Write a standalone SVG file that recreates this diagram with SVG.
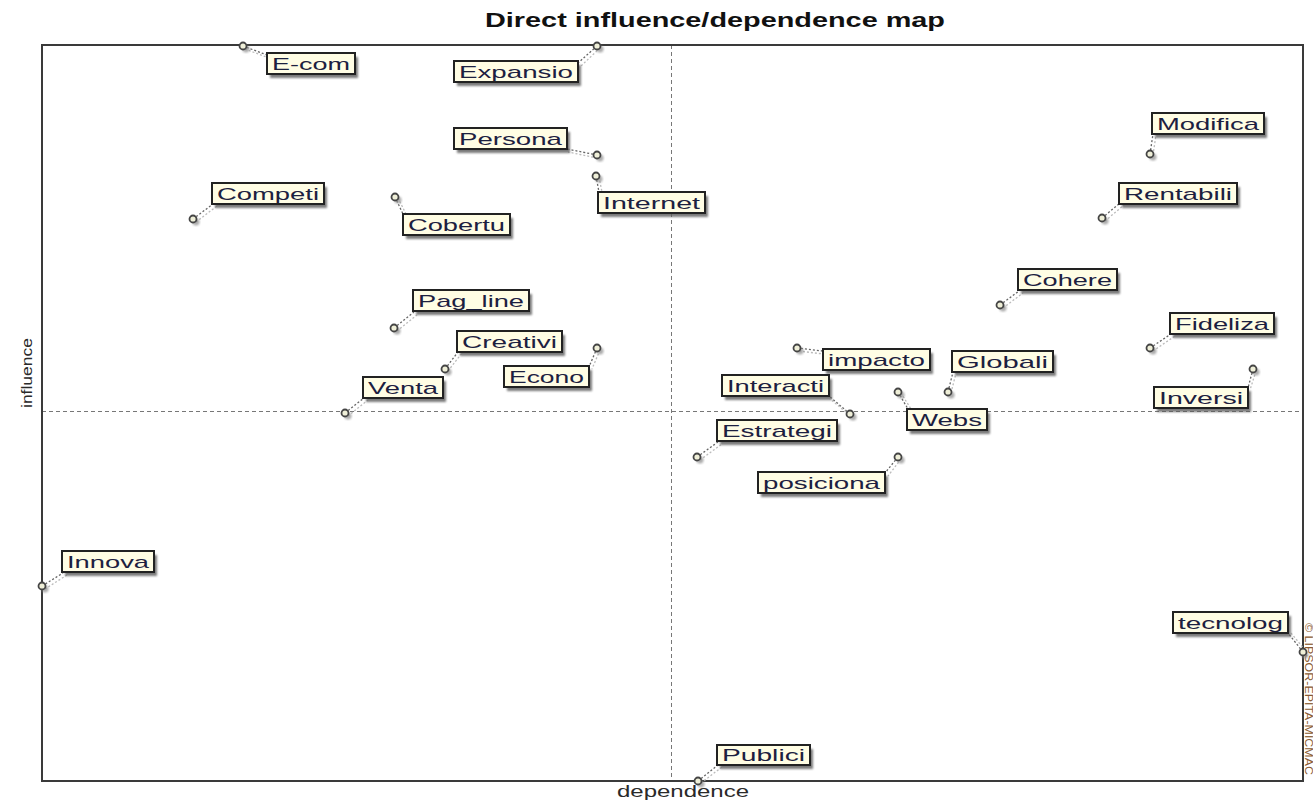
<svg xmlns="http://www.w3.org/2000/svg" width="1313" height="803" viewBox="0 0 1313 803">
<style>
  .lbl { font-family: "Liberation Sans", Arial, sans-serif; font-size: 17px; fill: #1c2040; }
  .box { fill: #fffde4; stroke: #222; stroke-width: 2; }
  .shd { fill: #5a5a5a; opacity: 0.8; }
  .pt { fill: #efefd8; stroke: #444; stroke-width: 1.8; }
  .pts { fill: #888; opacity: 0.7; }
  .ld { stroke: #666; stroke-width: 1.3; stroke-dasharray: 2 2; fill: none; }
  .ld2 { stroke: #bbb; stroke-width: 1.3; stroke-dasharray: 2 2; fill: none; }
  .axis { font-family: "Liberation Sans", Arial, sans-serif; fill: #2a2a2a; }
  .grid { stroke: #777; stroke-width: 1; stroke-dasharray: 4 3; fill: none; }
</style>
<defs>
  <filter id="blur" x="-20%" y="-20%" width="140%" height="140%">
    <feGaussianBlur stdDeviation="1"/>
  </filter>
</defs>
<rect x="0" y="0" width="1313" height="803" fill="#ffffff"/>
<text x="485" y="27" font-family="Liberation Sans, Arial, sans-serif" font-size="21" font-weight="bold" fill="#111" textLength="460" lengthAdjust="spacingAndGlyphs">Direct influence/dependence map</text>

<g id="frame">
  <line class="grid" x1="671.5" y1="45" x2="671.5" y2="781"/>
  <line class="grid" x1="42" y1="411.5" x2="1303" y2="411.5"/>
  <rect x="42" y="45" width="1261" height="736" fill="none" stroke="#3a3a3a" stroke-width="2"/>
</g>

<text class="axis" transform="translate(32,373) rotate(-90)" text-anchor="middle" font-size="15" textLength="70" lengthAdjust="spacingAndGlyphs">influence</text>
<text class="axis" x="617" y="797" font-size="16" textLength="132" lengthAdjust="spacingAndGlyphs">dependence</text>
<text transform="translate(1304.5,623) rotate(90)" font-family="Liberation Sans, Arial, sans-serif" font-size="10" fill="#8a5a30" textLength="152" lengthAdjust="spacingAndGlyphs">© LIPSOR-EPITA-MICMAC</text>

<g id="connectors">
  <line class="ld" x1="243" y1="46" x2="267" y2="55"/><line class="ld2" x1="245" y1="49" x2="269" y2="58"/>
  <line class="ld" x1="597" y1="46" x2="578" y2="63"/><line class="ld2" x1="600" y1="48" x2="581" y2="66"/>
  <line class="ld" x1="597" y1="155" x2="567" y2="149"/><line class="ld2" x1="597" y1="158" x2="568" y2="152"/>
  <line class="ld" x1="596" y1="176" x2="599" y2="192"/><line class="ld2" x1="599" y1="177" x2="602" y2="192"/>
  <line class="ld" x1="193" y1="219" x2="213" y2="204"/><line class="ld2" x1="196" y1="222" x2="217" y2="206"/>
  <line class="ld" x1="395" y1="197" x2="403" y2="214"/><line class="ld2" x1="398" y1="198" x2="406" y2="214"/>
  <line class="ld" x1="1150" y1="154" x2="1153" y2="134"/><line class="ld2" x1="1153" y1="155" x2="1156" y2="135"/>
  <line class="ld" x1="1102" y1="218" x2="1120" y2="203"/><line class="ld2" x1="1105" y1="221" x2="1124" y2="205"/>
  <line class="ld" x1="1000" y1="305" x2="1019" y2="291"/><line class="ld2" x1="1003" y1="308" x2="1023" y2="293"/>
  <line class="ld" x1="1150" y1="348" x2="1171" y2="334"/><line class="ld2" x1="1153" y1="351" x2="1175" y2="336"/>
  <line class="ld" x1="394" y1="328" x2="414" y2="312"/><line class="ld2" x1="397" y1="331" x2="418" y2="314"/>
  <line class="ld" x1="445" y1="369" x2="458" y2="352"/><line class="ld2" x1="448" y1="371" x2="462" y2="353"/>
  <line class="ld" x1="597" y1="348" x2="589" y2="367"/><line class="ld2" x1="600" y1="350" x2="592" y2="369"/>
  <line class="ld" x1="345" y1="413" x2="364" y2="398"/><line class="ld2" x1="348" y1="416" x2="368" y2="400"/>
  <line class="ld" x1="797" y1="348" x2="823" y2="351"/><line class="ld2" x1="799" y1="351" x2="823" y2="354"/>
  <line class="ld" x1="948" y1="392" x2="953" y2="372"/><line class="ld2" x1="951" y1="393" x2="956" y2="373"/>
  <line class="ld" x1="850" y1="414" x2="829" y2="396"/><line class="ld2" x1="852" y1="417" x2="830" y2="399"/>
  <line class="ld" x1="898" y1="392" x2="908" y2="409"/><line class="ld2" x1="901" y1="393" x2="911" y2="409"/>
  <line class="ld" x1="1253" y1="369" x2="1248" y2="388"/><line class="ld2" x1="1256" y1="371" x2="1250" y2="390"/>
  <line class="ld" x1="697" y1="457" x2="718" y2="442"/><line class="ld2" x1="700" y1="460" x2="722" y2="444"/>
  <line class="ld" x1="898" y1="457" x2="885" y2="473"/><line class="ld2" x1="901" y1="459" x2="888" y2="476"/>
  <line class="ld" x1="42" y1="586" x2="63" y2="573"/><line class="ld2" x1="45" y1="589" x2="67" y2="575"/>
  <line class="ld" x1="1303" y1="652" x2="1288" y2="633"/><line class="ld2" x1="1305" y1="650" x2="1291" y2="633"/>
  <line class="ld" x1="698" y1="781" x2="718" y2="765"/><line class="ld2" x1="701" y1="783" x2="722" y2="767"/>
</g>

<g id="node-ecom"><circle class="pts" cx="246" cy="49" r="3.5" filter="url(#blur)"/><circle class="pt" cx="243" cy="46" r="3.5"/><rect class="shd" x="270" y="57" width="88" height="21" filter="url(#blur)"/><rect class="box" x="267" y="53" width="88" height="21"/><text class="lbl" x="272" y="70" textLength="78" lengthAdjust="spacingAndGlyphs">E-com</text></g>
<g id="node-expansio"><circle class="pts" cx="600" cy="49" r="3.5" filter="url(#blur)"/><circle class="pt" cx="597" cy="46" r="3.5"/><rect class="shd" x="457" y="65" width="124" height="21" filter="url(#blur)"/><rect class="box" x="454" y="61" width="124" height="21"/><text class="lbl" x="459" y="78" textLength="114" lengthAdjust="spacingAndGlyphs">Expansio</text></g>
<g id="node-persona"><circle class="pts" cx="600" cy="158" r="3.5" filter="url(#blur)"/><circle class="pt" cx="597" cy="155" r="3.5"/><rect class="shd" x="457" y="132" width="113" height="21" filter="url(#blur)"/><rect class="box" x="454" y="128" width="113" height="21"/><text class="lbl" x="459" y="145" textLength="103" lengthAdjust="spacingAndGlyphs">Persona</text></g>
<g id="node-internet"><circle class="pts" cx="599" cy="179" r="3.5" filter="url(#blur)"/><circle class="pt" cx="596" cy="176" r="3.5"/><rect class="shd" x="601" y="196" width="107" height="21" filter="url(#blur)"/><rect class="box" x="598" y="192" width="107" height="21"/><text class="lbl" x="603" y="209" textLength="97" lengthAdjust="spacingAndGlyphs">Internet</text></g>
<g id="node-competi"><circle class="pts" cx="196" cy="222" r="3.5" filter="url(#blur)"/><circle class="pt" cx="193" cy="219" r="3.5"/><rect class="shd" x="215" y="187" width="112" height="21" filter="url(#blur)"/><rect class="box" x="212" y="183" width="112" height="21"/><text class="lbl" x="217" y="200" textLength="102" lengthAdjust="spacingAndGlyphs">Competi</text></g>
<g id="node-cobertu"><circle class="pts" cx="398" cy="200" r="3.5" filter="url(#blur)"/><circle class="pt" cx="395" cy="197" r="3.5"/><rect class="shd" x="406" y="218" width="107" height="21" filter="url(#blur)"/><rect class="box" x="403" y="214" width="107" height="21"/><text class="lbl" x="408" y="231" textLength="97" lengthAdjust="spacingAndGlyphs">Cobertu</text></g>
<g id="node-modifica"><circle class="pts" cx="1153" cy="157" r="3.5" filter="url(#blur)"/><circle class="pt" cx="1150" cy="154" r="3.5"/><rect class="shd" x="1155" y="117" width="112" height="21" filter="url(#blur)"/><rect class="box" x="1152" y="113" width="112" height="21"/><text class="lbl" x="1157" y="130" textLength="102" lengthAdjust="spacingAndGlyphs">Modifica</text></g>
<g id="node-rentabili"><circle class="pts" cx="1105" cy="221" r="3.5" filter="url(#blur)"/><circle class="pt" cx="1102" cy="218" r="3.5"/><rect class="shd" x="1122" y="187" width="118" height="21" filter="url(#blur)"/><rect class="box" x="1119" y="183" width="118" height="21"/><text class="lbl" x="1124" y="200" textLength="108" lengthAdjust="spacingAndGlyphs">Rentabili</text></g>
<g id="node-cohere"><circle class="pts" cx="1003" cy="308" r="3.5" filter="url(#blur)"/><circle class="pt" cx="1000" cy="305" r="3.5"/><rect class="shd" x="1021" y="273" width="99" height="21" filter="url(#blur)"/><rect class="box" x="1018" y="269" width="99" height="21"/><text class="lbl" x="1023" y="286" textLength="89" lengthAdjust="spacingAndGlyphs">Cohere</text></g>
<g id="node-fideliza"><circle class="pts" cx="1153" cy="351" r="3.5" filter="url(#blur)"/><circle class="pt" cx="1150" cy="348" r="3.5"/><rect class="shd" x="1173" y="317" width="104" height="21" filter="url(#blur)"/><rect class="box" x="1170" y="313" width="104" height="21"/><text class="lbl" x="1175" y="330" textLength="94" lengthAdjust="spacingAndGlyphs">Fideliza</text></g>
<g id="node-pagline"><circle class="pts" cx="397" cy="331" r="3.5" filter="url(#blur)"/><circle class="pt" cx="394" cy="328" r="3.5"/><rect class="shd" x="416" y="294" width="116" height="21" filter="url(#blur)"/><rect class="box" x="413" y="290" width="116" height="21"/><text class="lbl" x="418" y="307" textLength="106" lengthAdjust="spacingAndGlyphs">Pag_line</text></g>
<g id="node-creativi"><circle class="pts" cx="448" cy="372" r="3.5" filter="url(#blur)"/><circle class="pt" cx="445" cy="369" r="3.5"/><rect class="shd" x="460" y="335" width="105" height="21" filter="url(#blur)"/><rect class="box" x="457" y="331" width="105" height="21"/><text class="lbl" x="462" y="348" textLength="95" lengthAdjust="spacingAndGlyphs">Creativi</text></g>
<g id="node-econo"><circle class="pts" cx="600" cy="351" r="3.5" filter="url(#blur)"/><circle class="pt" cx="597" cy="348" r="3.5"/><rect class="shd" x="507" y="370" width="85" height="21" filter="url(#blur)"/><rect class="box" x="504" y="366" width="85" height="21"/><text class="lbl" x="509" y="383" textLength="75" lengthAdjust="spacingAndGlyphs">Econo</text></g>
<g id="node-venta"><circle class="pts" cx="348" cy="416" r="3.5" filter="url(#blur)"/><circle class="pt" cx="345" cy="413" r="3.5"/><rect class="shd" x="366" y="381" width="80" height="21" filter="url(#blur)"/><rect class="box" x="363" y="377" width="80" height="21"/><text class="lbl" x="368" y="394" textLength="70" lengthAdjust="spacingAndGlyphs">Venta</text></g>
<g id="node-impacto"><circle class="pts" cx="800" cy="351" r="3.5" filter="url(#blur)"/><circle class="pt" cx="797" cy="348" r="3.5"/><rect class="shd" x="826" y="353" width="107" height="21" filter="url(#blur)"/><rect class="box" x="823" y="349" width="107" height="21"/><text class="lbl" x="828" y="366" textLength="97" lengthAdjust="spacingAndGlyphs">impacto</text></g>
<g id="node-globali"><circle class="pts" cx="951" cy="395" r="3.5" filter="url(#blur)"/><circle class="pt" cx="948" cy="392" r="3.5"/><rect class="shd" x="955" y="355" width="101" height="21" filter="url(#blur)"/><rect class="box" x="952" y="351" width="101" height="21"/><text class="lbl" x="957" y="368" textLength="91" lengthAdjust="spacingAndGlyphs">Globali</text></g>
<g id="node-interacti"><circle class="pts" cx="853" cy="417" r="3.5" filter="url(#blur)"/><circle class="pt" cx="850" cy="414" r="3.5"/><rect class="shd" x="725" y="379" width="107" height="21" filter="url(#blur)"/><rect class="box" x="722" y="375" width="107" height="21"/><text class="lbl" x="727" y="392" textLength="97" lengthAdjust="spacingAndGlyphs">Interacti</text></g>
<g id="node-webs"><circle class="pts" cx="901" cy="395" r="3.5" filter="url(#blur)"/><circle class="pt" cx="898" cy="392" r="3.5"/><rect class="shd" x="910" y="413" width="80" height="21" filter="url(#blur)"/><rect class="box" x="907" y="409" width="80" height="21"/><text class="lbl" x="912" y="426" textLength="70" lengthAdjust="spacingAndGlyphs">Webs</text></g>
<g id="node-inversi"><circle class="pts" cx="1256" cy="372" r="3.5" filter="url(#blur)"/><circle class="pt" cx="1253" cy="369" r="3.5"/><rect class="shd" x="1157" y="391" width="94" height="21" filter="url(#blur)"/><rect class="box" x="1154" y="387" width="94" height="21"/><text class="lbl" x="1159" y="404" textLength="84" lengthAdjust="spacingAndGlyphs">Inversi</text></g>
<g id="node-estrategi"><circle class="pts" cx="700" cy="460" r="3.5" filter="url(#blur)"/><circle class="pt" cx="697" cy="457" r="3.5"/><rect class="shd" x="720" y="424" width="120" height="21" filter="url(#blur)"/><rect class="box" x="717" y="420" width="120" height="21"/><text class="lbl" x="722" y="437" textLength="110" lengthAdjust="spacingAndGlyphs">Estrategi</text></g>
<g id="node-posiciona"><circle class="pts" cx="901" cy="460" r="3.5" filter="url(#blur)"/><circle class="pt" cx="898" cy="457" r="3.5"/><rect class="shd" x="761" y="476" width="127" height="21" filter="url(#blur)"/><rect class="box" x="758" y="472" width="127" height="21"/><text class="lbl" x="763" y="489" textLength="117" lengthAdjust="spacingAndGlyphs">posiciona</text></g>
<g id="node-innova"><circle class="pts" cx="45" cy="589" r="3.5" filter="url(#blur)"/><circle class="pt" cx="42" cy="586" r="3.5"/><rect class="shd" x="65" y="555" width="92" height="21" filter="url(#blur)"/><rect class="box" x="62" y="551" width="92" height="21"/><text class="lbl" x="67" y="568" textLength="82" lengthAdjust="spacingAndGlyphs">Innova</text></g>
<g id="node-tecnolog"><circle class="pts" cx="1305" cy="655" r="3.5" filter="url(#blur)"/><circle class="pt" cx="1303" cy="652" r="3.5"/><rect class="shd" x="1176" y="616" width="115" height="21" filter="url(#blur)"/><rect class="box" x="1173" y="612" width="115" height="21"/><text class="lbl" x="1178" y="629" textLength="105" lengthAdjust="spacingAndGlyphs">tecnolog</text></g>
<g id="node-publici"><circle class="pts" cx="701" cy="784" r="3.5" filter="url(#blur)"/><circle class="pt" cx="698" cy="781" r="3.5"/><rect class="shd" x="720" y="749" width="93" height="20" filter="url(#blur)"/><rect class="box" x="717" y="745" width="93" height="20"/><text class="lbl" x="722" y="761" textLength="83" lengthAdjust="spacingAndGlyphs">Publici</text></g>
</svg>
